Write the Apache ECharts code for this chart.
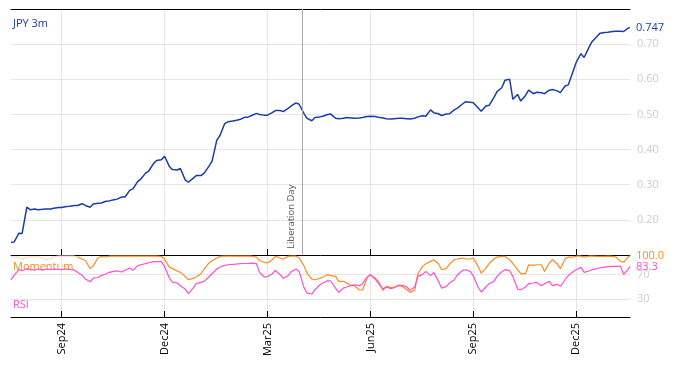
<!DOCTYPE html>
<html>
<head>
<meta charset="utf-8">
<script src="https://cdn.jsdelivr.net/npm/echarts@6/dist/echarts.min.js"></script>
<style>
html,body{margin:0;padding:0;background:#fff;}
#c{width:674px;height:366px;}
</style>
</head>
<body>
<div id="c"></div>
<script>
// ---- data ----
const startDate = '2024-07-18';
const endDate = '2026-01-16';
const tickDates = ['2024-09-02','2024-12-02','2025-03-03','2025-06-02','2025-09-01','2025-12-01'];
const tickLabels = ['Sep24','Dec24','Mar25','Jun25','Sep25','Dec25'];
const eventDate = '2025-04-02';
const eventLabel = 'Liberation Day';
const momentumPaleUntil = '2024-09-16';

const dates = ['2024-07-18','2024-07-22','2024-07-25','2024-07-29','2024-08-01','2024-08-05','2024-08-08','2024-08-12','2024-08-15','2024-08-19','2024-08-22','2024-08-26','2024-08-29','2024-09-02','2024-09-05','2024-09-09','2024-09-12','2024-09-16','2024-09-19','2024-09-23',
'2024-09-26','2024-09-30','2024-10-03','2024-10-07','2024-10-10','2024-10-14','2024-10-17','2024-10-21','2024-10-24','2024-10-28',
'2024-10-31','2024-11-04','2024-11-07','2024-11-11','2024-11-14','2024-11-18','2024-11-21','2024-11-25','2024-11-28','2024-12-02',
'2024-12-05','2024-12-09','2024-12-12','2024-12-16','2024-12-19','2024-12-23','2024-12-26','2024-12-30','2025-01-02','2025-01-06',
'2025-01-09','2025-01-13','2025-01-16','2025-01-20','2025-01-23','2025-01-27','2025-01-30','2025-02-03','2025-02-06','2025-02-10',
'2025-02-13','2025-02-17','2025-02-20','2025-02-24','2025-02-27','2025-03-03','2025-03-06','2025-03-10','2025-03-13','2025-03-17',
'2025-03-20','2025-03-24','2025-03-27','2025-03-31','2025-04-03','2025-04-07','2025-04-10','2025-04-14','2025-04-17','2025-04-21',
'2025-04-24','2025-04-28','2025-05-01','2025-05-05','2025-05-08','2025-05-12','2025-05-15','2025-05-19','2025-05-22','2025-05-26',
'2025-05-29','2025-06-02','2025-06-05','2025-06-09','2025-06-12','2025-06-16','2025-06-19','2025-06-23','2025-06-26','2025-06-30',
'2025-07-03','2025-07-07','2025-07-10','2025-07-14','2025-07-17','2025-07-21','2025-07-24','2025-07-28','2025-07-31','2025-08-04',
'2025-08-07','2025-08-11','2025-08-14','2025-08-18','2025-08-21','2025-08-25','2025-08-28','2025-09-01','2025-09-04','2025-09-08',
'2025-09-11','2025-09-15','2025-09-18','2025-09-22','2025-09-25','2025-09-29','2025-10-02','2025-10-06','2025-10-09','2025-10-13',
'2025-10-16','2025-10-20','2025-10-23','2025-10-27','2025-10-30','2025-11-03','2025-11-06','2025-11-10','2025-11-13','2025-11-17',
'2025-11-20','2025-11-24','2025-11-27','2025-12-01','2025-12-04','2025-12-08','2025-12-11','2025-12-15','2025-12-18','2025-12-22',
'2025-12-25','2025-12-29','2026-01-01','2026-01-05','2026-01-08','2026-01-12','2026-01-15','2026-01-16'];

const jpy3m = [0.136,0.137,0.162,0.161,0.236,0.229,0.231,0.229,0.230,0.231,0.231,0.233,0.235,0.235,0.238,0.239,0.241,0.241,0.246,0.241,
0.236,0.245,0.247,0.248,0.253,0.254,0.257,0.259,0.265,0.265,
0.284,0.288,0.309,0.316,0.333,0.339,0.360,0.369,0.371,0.381,
0.352,0.343,0.342,0.346,0.314,0.307,0.318,0.326,0.326,0.333,
0.352,0.367,0.427,0.440,0.474,0.479,0.481,0.483,0.486,0.491,
0.493,0.497,0.503,0.500,0.498,0.498,0.505,0.511,0.511,0.508,
0.517,0.524,0.533,0.529,0.503,0.489,0.482,0.491,0.493,0.495,
0.500,0.501,0.489,0.488,0.489,0.491,0.490,0.489,0.490,0.491,
0.494,0.495,0.494,0.492,0.490,0.488,0.487,0.488,0.489,0.489,
0.488,0.487,0.489,0.493,0.496,0.495,0.513,0.505,0.502,0.497,
0.501,0.502,0.513,0.518,0.529,0.536,0.535,0.533,0.519,0.509,
0.524,0.526,0.548,0.565,0.576,0.597,0.600,0.543,0.557,0.538,
0.554,0.569,0.559,0.563,0.562,0.559,0.569,0.571,0.567,0.562,
0.581,0.584,0.622,0.648,0.673,0.662,0.690,0.707,0.721,0.731,
0.733,0.734,0.736,0.737,0.737,0.736,0.746,0.747];

const momentum = [99,99,98,95,98,99,99,99,97,94,96,99,100,100,100,100,100,99,95,93,
79.5,84.5,97.5,99.5,99,100,100,100,100,100,
100,100,100,100,100,100,100,100,99.5,95,
82,80,75.6,73.4,66.8,61.3,63.6,65.8,71.2,79,
88.8,92.6,97,99.7,100,100,100,100,100,100,
100,100,98.6,93,90,88.8,94,99.7,97,95.4,
99.7,100,100,97.5,84.5,72.3,62.5,61.3,63.6,65.8,
69.6,68,66.8,58.6,58.6,55.9,51.5,51.5,44.4,44.4,
64.7,69.6,64.1,58.6,43.8,50.4,48.2,49.3,51.5,50.4,
44.9,40.5,43.8,71.2,83.3,87.7,91.5,94.2,87.7,77.8,
80,87,94.2,95.4,97,95.4,95.4,97,83.3,72.3,
80.5,87.7,95.4,98.6,99.7,99.7,94.2,87.7,77.8,71.2,
71.2,86,85,86,86,75,88.8,94.2,87.7,79.5,
95.4,98.6,98.6,100,100,98.6,100,100,99.7,99.7,
99.7,100,99.7,98.6,91.5,90,99.7,100];

const rsi = [61,69,78,76,79.5,78,77,79,77,79,78,79,78.5,78,79,78.5,77,73.5,68.5,62.5,
58,64,65,68.5,70.7,73.5,75,76,74,77,
80.5,77,84.5,86,87.7,89.3,91,91,91,83,
64,57.5,55.9,51.5,46,38.4,47.6,54.8,57,58.6,
65.8,71.2,79,82.2,85,86,86.6,87,87.7,88,
88.2,88.5,87.7,73.5,65.8,66.3,71.2,76.7,69.6,63.6,
68,74.5,79,75,48.8,39.4,37.8,44.9,52.6,55.9,
59.7,59.2,47.6,40.5,47.6,49.3,52,53.1,51.5,54.8,
65.8,69.6,62.5,55.9,46,49.3,46.6,48.2,52.6,52,
49.3,43.8,49.3,66.8,70.1,75,68,73.4,58.6,47.6,
50.4,55.9,61.3,69.6,76.2,77.8,75,68,49.3,41.1,
49.3,54.8,58.6,66.8,74.5,77.8,76.2,66.8,46,44.9,
49.3,54.8,55.9,57,51.5,54.8,58.6,51.5,53.7,50.4,
61.3,68,74.5,77.8,81.6,73.4,75.6,77.8,79.5,81,
82.2,82.8,83.3,83.3,83.3,70,79,83.3];

// ---- axis categories: every weekday in the range ----
function weekdays(a, b) {
  const out = [];
  let d = new Date(a + 'T00:00:00Z');
  const e = new Date(b + 'T00:00:00Z');
  while (d <= e) {
    const w = d.getUTCDay();
    if (w !== 0 && w !== 6) out.push(d.toISOString().slice(0, 10));
    d = new Date(d.getTime() + 86400000);
  }
  return out;
}
const days = weekdays(startDate, endDate);
const pair = (vals) => dates.map((d, i) => [d, vals[i]]);
const paleIdx = dates.indexOf(momentumPaleUntil);
const momPairs = pair(momentum);

const BLUE = '#1a3da6', ORANGE = '#ff8c1a', PALE = '#ffdcb8', PINK = '#ff4fd2';
const FONT = 'Open Sans';
const isTick = (idx, val) => tickDates.indexOf(val) >= 0;

const chart = echarts.init(document.getElementById('c'));
chart.setOption({
  animation: false,
  textStyle: { fontFamily: FONT },
  grid: [
    { left: 11, right: 44, top: 9, height: 246 },
    { left: 11, right: 44, top: 255, height: 62 }
  ],
  xAxis: [
    { type: 'category', gridIndex: 0, data: days, boundaryGap: false,
      axisLine: { lineStyle: { color: '#000', width: 1 } },
      axisTick: { inside: true, length: 6, interval: isTick, lineStyle: { color: '#000' } },
      axisLabel: { show: false },
      splitLine: { show: true, interval: isTick, lineStyle: { color: '#e6e6e6' } } },
    { type: 'category', gridIndex: 0, data: days, boundaryGap: false, position: 'top',
      axisLine: { lineStyle: { color: '#000', width: 1 } },
      axisTick: { show: false }, axisLabel: { show: false }, splitLine: { show: false } },
    { type: 'category', gridIndex: 1, data: days, boundaryGap: false,
      axisLine: { lineStyle: { color: '#000', width: 1 } },
      axisTick: { inside: true, length: 6, interval: isTick, lineStyle: { color: '#000' } },
      axisLabel: { interval: isTick, rotate: 90, margin: 6, color: '#000', fontSize: 11, fontFamily: FONT,
        formatter: (v) => tickLabels[tickDates.indexOf(v)] },
      splitLine: { show: true, interval: isTick, lineStyle: { color: '#e6e6e6' } } }
  ],
  yAxis: [
    { type: 'value', gridIndex: 0, position: 'right', min: 0.1, max: 0.8, interval: 0.1,
      axisLine: { show: false }, axisTick: { show: false },
      axisLabel: { showMinLabel: false, showMaxLabel: false, color: '#cccccc', fontSize: 11, margin: 7,
        formatter: (v) => v.toFixed(2) },
      splitLine: { lineStyle: { color: '#e6e6e6' } } },
    { type: 'value', gridIndex: 1, position: 'right', min: 0, max: 102,
      axisLine: { show: false },
      axisTick: { show: false, customValues: [30, 70] },
      axisLabel: { customValues: [30, 70], color: '#cccccc', fontSize: 11, margin: 7 },
      splitLine: { lineStyle: { color: '#e6e6e6' } } }
  ],
  series: [
    { name: 'JPY 3m', type: 'line', xAxisIndex: 0, yAxisIndex: 0, data: pair(jpy3m),
      showSymbol: false, lineStyle: { color: BLUE, width: 1.5 }, itemStyle: { color: BLUE },
      endLabel: { show: true, color: BLUE, fontSize: 11, distance: 6, formatter: (p) => p.value[1].toFixed(3) },
      markLine: { silent: true, symbol: ['none', 'none'],
        lineStyle: { color: '#aaaaaa', width: 1, type: 'solid' },
        label: { show: true, position: 'insideStartTop', formatter: eventLabel, color: '#555', fontSize: 9.5, distance: 6 },
        data: [{ xAxis: eventDate }] } },
    { name: 'Momentum early', type: 'line', xAxisIndex: 2, yAxisIndex: 1, data: momPairs.slice(0, paleIdx + 1),
      showSymbol: false, lineStyle: { color: PALE, width: 1.2 }, itemStyle: { color: PALE } },
    { name: 'Momentum', type: 'line', xAxisIndex: 2, yAxisIndex: 1, data: momPairs.slice(paleIdx),
      showSymbol: false, lineStyle: { color: ORANGE, width: 1.2 }, itemStyle: { color: ORANGE },
      endLabel: { show: true, color: ORANGE, fontSize: 11, distance: 6, formatter: (p) => p.value[1].toFixed(1) } },
    { name: 'RSI', type: 'line', xAxisIndex: 2, yAxisIndex: 1, data: pair(rsi),
      showSymbol: false, lineStyle: { color: PINK, width: 1.2 }, itemStyle: { color: PINK },
      endLabel: { show: true, color: PINK, fontSize: 11, distance: 6, formatter: (p) => p.value[1].toFixed(1) } }
  ],
  graphic: [
    { type: 'text', left: 13, top: 18, style: { text: 'JPY 3m', fill: BLUE, font: '11px "Open Sans"' } },
    { type: 'text', left: 13, top: 261, style: { text: 'Momentum', fill: ORANGE, font: '11px "Open Sans"' } },
    { type: 'text', left: 13, top: 299, style: { text: 'RSI', fill: PINK, font: '11px "Open Sans"' } }
  ]
});
</script>
</body>
</html>
